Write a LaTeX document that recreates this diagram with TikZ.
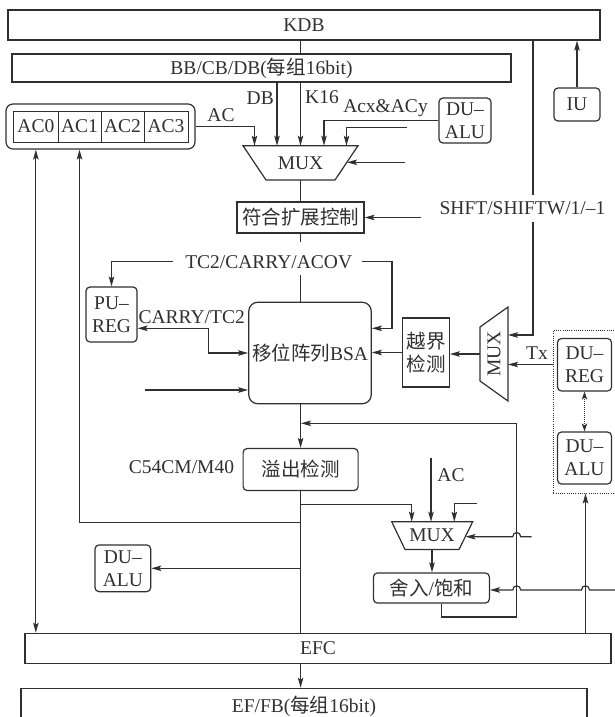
\documentclass[tikz,border=0pt]{standalone}
\usepackage{fontspec}
\setmainfont{Liberation Serif}
\newfontfamily\cjk{Noto Sans CJK SC}
\usetikzlibrary{arrows.meta,calc}
\definecolor{ink}{RGB}{48,48,48}
\begin{document}
\begin{tikzpicture}[x=1pt,y=-1pt,
  every node/.style={text=ink, font=\fontsize{19.5}{23}\selectfont},
  cjkf/.style={font=\fontsize{19.5}{23}\selectfont\cjk},
  line/.style={draw=ink, line width=1.2pt},
  tip/.tip={Stealth[length=10pt,width=5.5pt,inset=2pt]},
  arr/.style={line, -tip},
  darr/.style={line, tip-tip},
  rbox/.style={draw=ink, line width=1.2pt, rounded corners=4pt, inner sep=0pt, align=center},
  sbox/.style={draw=ink, line width=1.2pt, inner sep=0pt, align=center},
  lab/.style={inner sep=0pt},
]
\fill[white] (0,0) rectangle (614,717);
\useasboundingbox (0,0) rectangle (614,717);

% ---------- nodes ----------
\node[sbox, minimum width=592pt, minimum height=30pt] (kdb) at (304,25) {KDB};
\node[sbox, minimum width=499pt, minimum height=28pt] (bb) at (261.5,68) {BB/CB/DB({\cjk 每组}16bit)};
\node[rbox, minimum width=46pt, minimum height=33pt] (iu) at (577,104.5) {IU};

\node[rbox, rounded corners=7pt, minimum width=189pt, minimum height=45pt] (acg) at (100.5,126.5) {};
\node[sbox, line width=1pt, minimum width=44.3pt, minimum height=31pt] (ac0) at (35.85,126.5) {AC0};
\node[sbox, line width=1pt, minimum width=43pt, minimum height=31pt] (ac1) at (79.5,126.5) {AC1};
\node[sbox, line width=1pt, minimum width=43pt, minimum height=31pt] (ac2) at (122.5,126.5) {AC2};
\node[sbox, line width=1pt, minimum width=44pt, minimum height=31pt] (ac3) at (166,126.5) {AC3};

\node[rbox, minimum width=52pt, minimum height=45pt] (dualuA) at (465,120.5) {DU–\\ALU};

\node[lab] (muxA) at (300.5,163) {MUX};
\draw[line] (243,145.7) -- (358,145.7) -- (335,180) -- (266,180) -- cycle;
\coordinate (muxAtop) at (300.5,145.7);
\coordinate (muxAbot) at (300.5,180);

\node[lab, anchor=east] (dblab) at (274,98) {DB};
\node[lab, anchor=west] (k16lab) at (305,97) {K16};
\node[lab] (aclab) at (221,115) {AC};
\node[lab] (acxlab) at (385.5,108) {Acx\&ACy};

\node[sbox, cjkf, minimum width=127pt, minimum height=31pt] (fuhe) at (300.5,217.5) {符合扩展控制};
\node[lab, inner ysep=7pt] (shft) at (522.5,208.5) {SHFT/SHIFTW/1/–1};
\node[lab] (tclab) at (268.7,261.7) {TC2/CARRY/ACOV};

\node[rbox, minimum width=51pt, minimum height=55pt] (pureg) at (111.5,314.5) {PU–\\REG};
\node[rbox, rounded corners=9pt, minimum width=122.5pt, minimum height=101.5pt] (bsa) at (310,353) {{\cjk 移位阵列}BSA};
\node[lab] (ctlab) at (191.7,316.7) {CARRY/TC2};
\node[sbox, cjkf, minimum width=46.5pt, minimum height=69pt] (yuejie) at (426,352.5) {越界\\检测};

\draw[line] (480,327) -- (508,307) -- (508,401) -- (480,381) -- cycle;
\node[lab, rotate=90] (muxV) at (494,354) {MUX};

\node[draw=ink, line width=0.9pt, dash pattern=on 1pt off 1.2pt, inner sep=0pt,
      minimum width=64.7pt, minimum height=162.5pt] (dot) at (585.65,411.75) {};
\node[rbox, minimum width=54pt, minimum height=52.5pt] (dureg) at (584.5,364.75) {DU–\\REG};
\node[rbox, minimum width=54pt, minimum height=52pt] (dualuB) at (584.5,458) {DU–\\ALU};
\node[lab] (tx) at (537,353) {Tx};

\node[rbox, cjkf, minimum width=115pt, minimum height=42pt] (yichu) at (300.6,469.5) {溢出检测};
\node[lab] (c54) at (181.5,467.5) {C54CM/M40};

\draw[line] (391.7,521.7) -- (472.7,521.7) -- (459,549.5) -- (405,549.5) -- cycle;
\node[lab] (muxB) at (432,535.5) {MUX};
\node[lab] (aclab2) at (451,475) {AC};

\node[rbox, minimum width=116pt, minimum height=30pt] (sheru) at (431.4,588) {{\cjk 舍入}/{\cjk 饱和}};
\node[rbox, minimum width=55.7pt, minimum height=46.7pt] (dualuC) at (122.85,568.3) {DU–\\ALU};

\node[sbox, minimum width=586pt, minimum height=30pt] (efc) at (318,648.3) {EFC};
\node[sbox, minimum width=566pt, minimum height=36pt] (effb) at (304,706.3) {EF/FB({\cjk 每组}16bit)};

% ---------- helper coordinates ----------
\coordinate (shx) at (533,0);
\coordinate (dbx) at (277,0);
\coordinate (muxAin1) at (254.5,145.7);
\coordinate (muxAin4) at (324,145.7);
\coordinate (freeA1) at (407,127.7);
\coordinate (muxAin5) at (346.5,145.7);
\coordinate (freeA2) at (405,162.3);
\coordinate (muxAside) at (347,162.3);
\coordinate (freeF) at (421,217.5);
\coordinate (tcgapT) at (300.5,241.7);
\coordinate (tcgapB) at (300.5,275);
\coordinate (tcL) at (173.3,261.7);
\coordinate (tcR) at (361.7,261.7);
\coordinate (tcRc) at (392,261.7);
\coordinate (y328) at (0,328.3);
\coordinate (ctc) at (208.5,328.3);
\coordinate (freeB) at (145,390);
\coordinate (muxVout) at (480,354);
\coordinate (muxVtx) at (508,364.5);
\coordinate (muxVsh) at (508,335);
\coordinate (fb1) at (441.7,617);
\coordinate (fb2) at (516.7,617);
\coordinate (fb3) at (516.7,423.3);
\coordinate (fb4) at (301,423.3);
\coordinate (br1) at (300.6,504.3);
\coordinate (muxBin1) at (411.7,521.7);
\coordinate (acB) at (431,458.3);
\coordinate (freeC) at (477.3,503.3);
\coordinate (muxBin3) at (454.3,521.7);
\coordinate (br2) at (300.6,522.3);
\coordinate (muxBbot) at (432,549.5);
\coordinate (dux) at (585.5,0);
\coordinate (y590) at (0,590);

% ---------- connectors ----------
\draw[line] (kdb.south -| muxAtop) -- (bb.north -| muxAtop);
\draw[line] (kdb.south -| shx) -- (shft.north -| shx);
\draw[arr] (shft.south -| shx) |- (muxVsh);
\draw[arr] (iu.north) -- (iu.north |- kdb.south);
\draw[arr] (bb.south -| dbx) -- (muxAtop -| dbx);
\draw[arr] (bb.south -| muxAtop) -- (muxAtop);
\draw[arr] (acg.east) -| (muxAin1);
\draw[arr] (dualuA.west) -| (muxAin4);
\draw[arr] (freeA1) -| (muxAin5);
\draw[arr] (freeA2) -- (muxAside);
\draw[line] (muxAbot) -- (fuhe.north);
\draw[arr] (freeF) -- (fuhe.east);
\draw[line] (fuhe.south) -- (tcgapT);
\draw[line] (tcgapB) -- (bsa.north -| tcgapB);
\draw[arr] (tcL) -| (pureg.north);
\draw[arr] (tcR) -- (tcRc) |- (bsa.east |- y328);
\draw[darr] (pureg.east |- y328) -- (ctc) |- (bsa.west);
\draw[arr] (freeB) -- (bsa.west |- freeB);
\draw[arr] (yuejie.west) -- (bsa.east |- yuejie.west);
\draw[arr] (muxVout) -- (yuejie.east |- muxVout);
\draw[arr] (dot.west |- muxVtx) -- (muxVtx);
\draw[draw=ink, line width=1pt, dash pattern=on 1pt off 1pt,
      {Stealth[length=8pt,width=5.5pt,inset=2pt]}-{Stealth[length=8pt,width=5.5pt,inset=2pt]}]
      (dureg.south) -- (dualuB.north);
\draw[arr] (yichu.north |- bsa.south) -- (yichu.north);
\draw[arr] (sheru.south -| fb1) -- (fb1) -- (fb2) -- (fb3) -- (fb4);
\draw[line] (yichu.south) -- (efc.north -| yichu.south);
\draw[arr] (br1) -| (muxBin1);
\draw[arr] (acB) -- (acB |- muxBin1);
\draw[arr] (freeC) -| (muxBin3);
\draw[arr] (531.7,536.7) -- (520.7,536.7) .. controls (520.7,531.2) and (512.7,531.2) .. (512.7,536.7) -- (465.5,536.7);
\draw[arr] (br2) -| (acg.south -| ac1.south);
\draw[darr] (acg.south -| ac0.south) -- (efc.north -| ac0.south);
\draw[arr] (dualuC.east -| yichu.south) -- (dualuC.east);
\draw[arr] (muxBbot) -- (sheru.north -| muxBbot);
\draw[arr] (616,590) -- (589.5,590) .. controls (589.5,584.5) and (581.5,584.5) .. (581.5,590)
      -- (520.7,590) .. controls (520.7,584.5) and (512.7,584.5) .. (512.7,590) -- (sheru.east |- y590);
\draw[arr] (efc.north -| dux) -- (dot.south -| dux);
\draw[arr] (efc.south -| yichu.south) -- (effb.north -| yichu.south);
\end{tikzpicture}
\end{document}
